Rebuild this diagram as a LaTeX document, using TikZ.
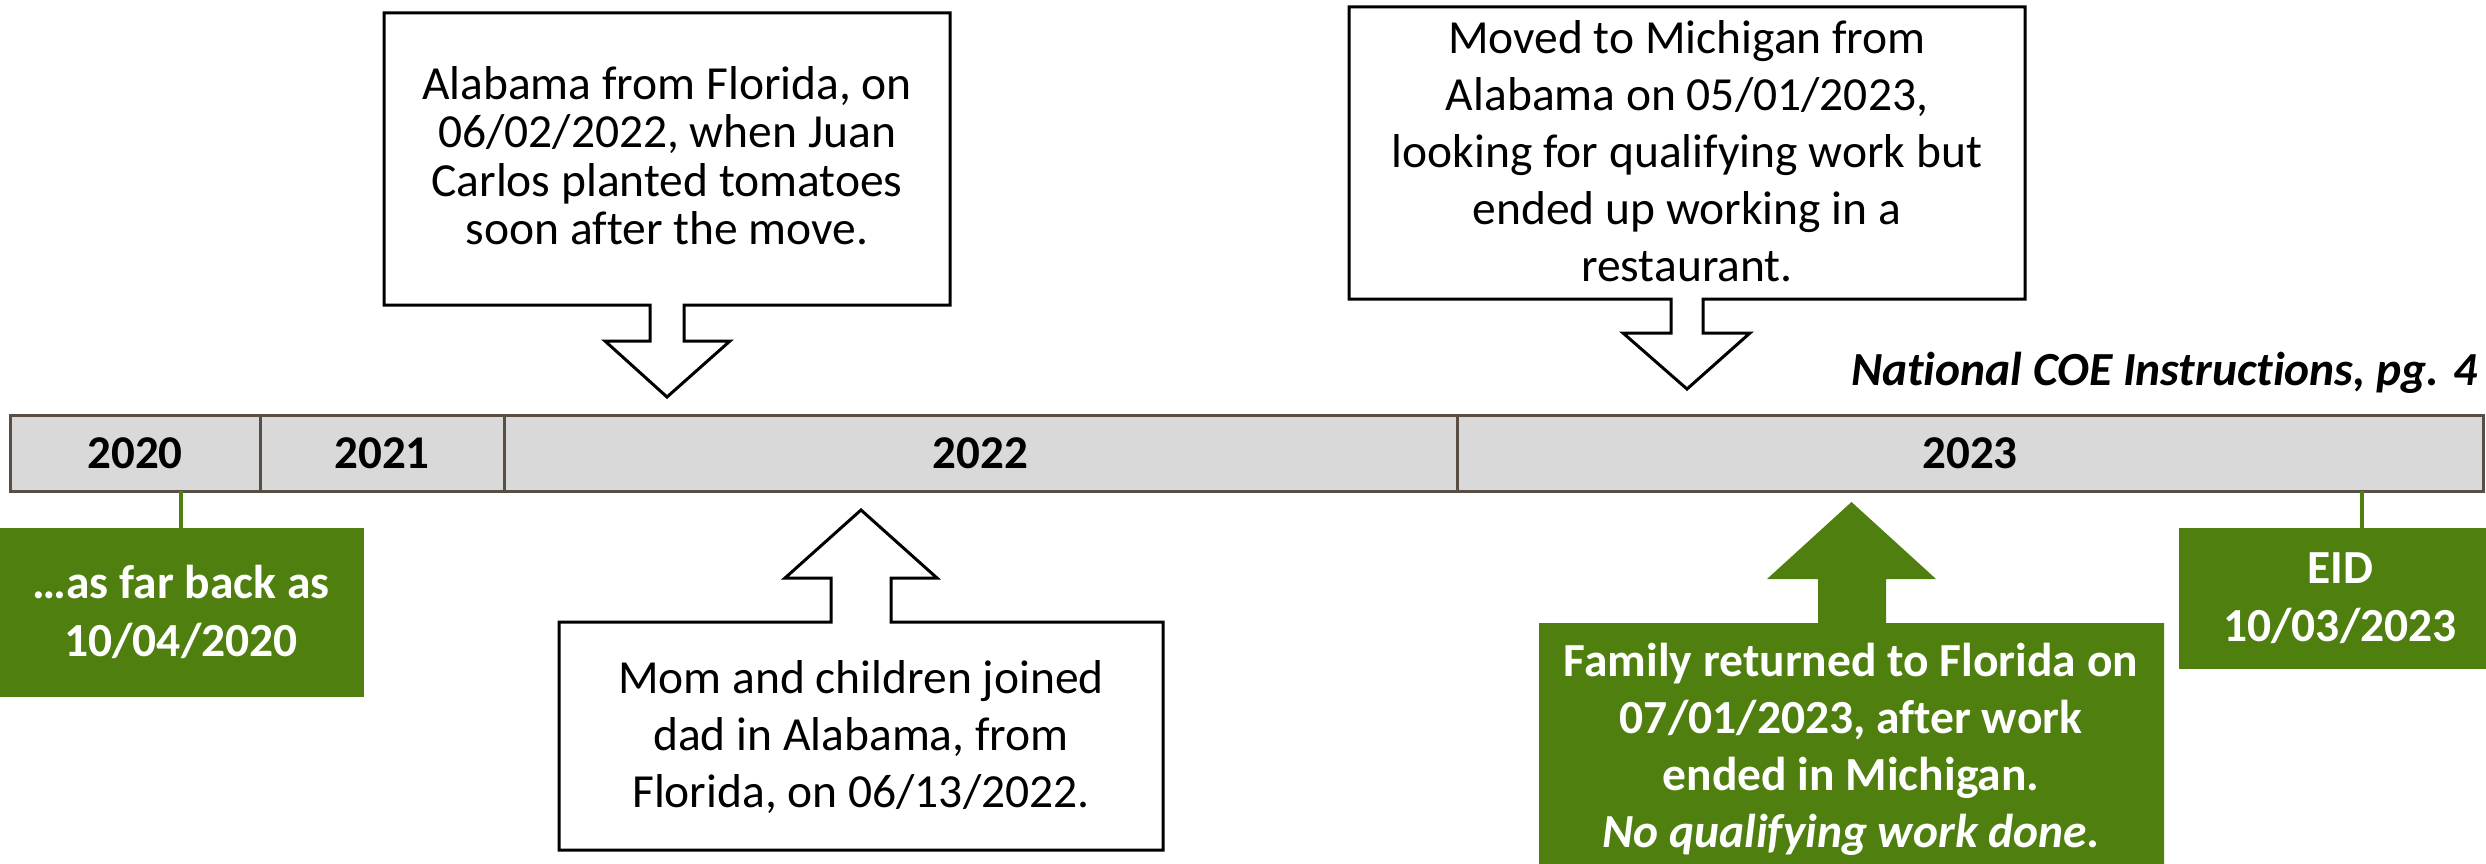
\documentclass[tikz,border=0pt]{standalone}
\usepackage{fontspec}
\setmainfont{Carlito}[Ligatures={NoCommon,NoRequired,NoContextual}]
\definecolor{coegreen}{RGB}{79,127,15}
\definecolor{barfill}{RGB}{217,217,217}
\definecolor{barline}{RGB}{89,78,68}
\begin{document}
\begin{tikzpicture}[x=1pt,y=-1pt,
  yearseg/.style={draw=barline, line width=3pt, fill=barfill, minimum height=76pt, inner sep=0pt, outer sep=0pt, font=\bfseries\fontsize{47}{57}\selectfont},
  calltext/.style={align=center, inner sep=0pt, text depth=0pt, anchor=south, font=\fontsize{47.5}{57}\selectfont},
  callout/.style={draw=black, line width=3pt, fill=white, line join=miter},
  greenbox/.style={fill=coegreen, draw=coegreen, inner sep=0pt, outer sep=0pt},
  greentext/.style={calltext, text=white, font=\bfseries\fontsize{47.5}{58}\selectfont},
  greenline/.style={draw=coegreen, line width=4pt}]
\useasboundingbox (0,0) rectangle (2486,864);
\fill[white] (0,0) rectangle (2486,864);

% timeline bar
\node[yearseg, minimum width=250pt] (y2020) at (135,453) {2020};
\node[yearseg, minimum width=244pt] (y2021) at (382,453) {2021};
\node[yearseg, minimum width=953pt] (y2022) at (980.5,453) {2022};
\node[yearseg, minimum width=1026pt] (y2023) at (1970,453) {2023};

% title
\node[anchor=base east, inner sep=0pt, font=\bfseries\itshape\fontsize{47.5}{57}\selectfont] (title) at (2478,385) {National COE Instructions, pg. 4};

% callout: Alabama from Florida
\draw[callout] (384,13) -- (950,13) -- (950,305) -- (684,305) -- (684,341) -- (730,341)
  -- (667,397) -- (605,341) -- (650,341) -- (650,305) -- (384,305) -- cycle;
\node[calltext, font=\fontsize{47.5}{48.5}\selectfont] (ala) at (667,245)
  {Alabama from Florida, on\\06/02/2022, when Juan\\Carlos planted tomatoes\\soon after the move.};

% callout: Moved to Michigan
\draw[callout] (1349,7) -- (2025,7) -- (2025,299) -- (1703,299) -- (1703,333) -- (1750,333)
  -- (1687,389) -- (1623,333) -- (1671,333) -- (1671,299) -- (1349,299) -- cycle;
\node[calltext] (mich) at (1687,282)
  {Moved to Michigan from\\Alabama on 05/01/2023,\\looking for qualifying work but\\ended up working in a\\restaurant.};

% callout: Mom and children
\draw[callout] (559,850) -- (1163,850) -- (1163,622) -- (891,622) -- (891,578) -- (937,578)
  -- (861,510) -- (785,578) -- (831,578) -- (831,622) -- (559,622) -- cycle;
\node[calltext] (mom) at (861,808)
  {Mom and children joined\\dad in Alabama, from\\Florida, on 06/13/2022.};

% green: as far back as
\node[greenbox, minimum width=364pt, minimum height=168pt] (g1) at (181,612) {};
\node[greentext] (g1t) at (181,657) {…as far back as\\10/04/2020};
\draw[greenline] (g1.north) -- (g1.north |- y2020.south);

% green: EID
\node[greenbox, minimum width=366pt, minimum height=140pt] (g2) at (2362,598) {};
\node[greentext] (g2t) at (2340,642) {EID\\10/03/2023};
\draw[greenline] (g2.north) -- (g2.north |- y2023.south);

% green: Family returned
\fill[coegreen] (1539,623) -- (1818,623) -- (1818,579) -- (1767,579) -- (1851.5,502)
  -- (1936,579) -- (1886,579) -- (1886,623) -- (2164,623) -- (2164,880) -- (1539,880) -- cycle;
\node[greentext, font=\bfseries\fontsize{47.5}{57}\selectfont] (g3t) at (1851,848)
  {Family returned to Florida on\\07/01/2023, after work\\ended in Michigan.\\\textit{No qualifying work done.}};
\end{tikzpicture}
\end{document}
